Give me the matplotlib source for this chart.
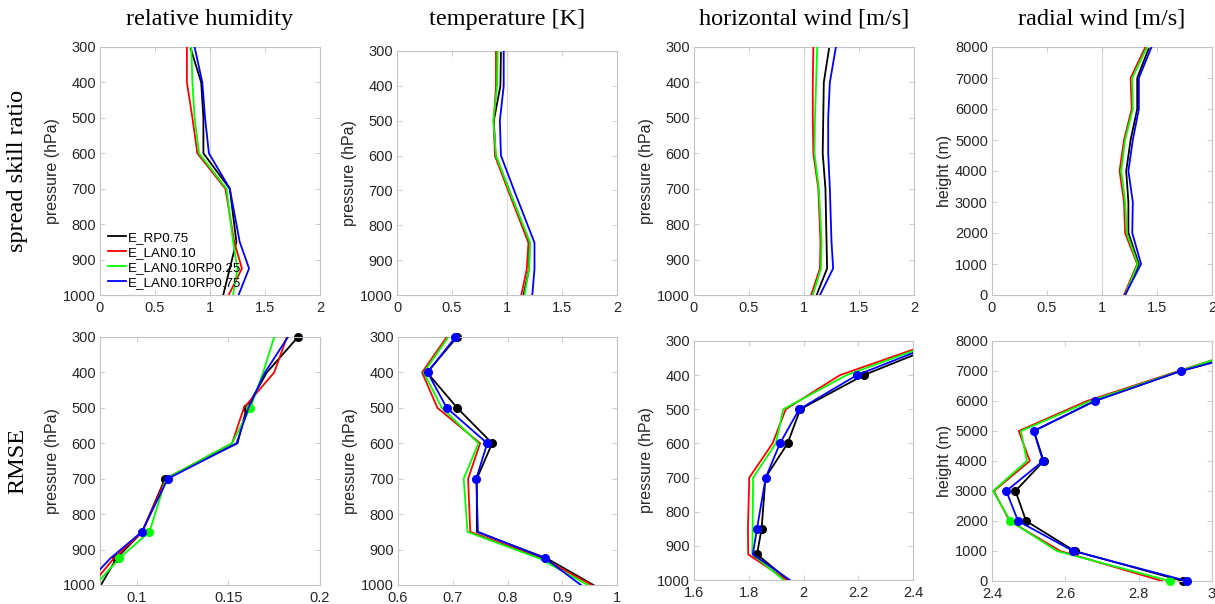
import matplotlib
matplotlib.use('Agg')
import matplotlib.pyplot as plt
from matplotlib.ticker import FormatStrFormatter

# vertical levels
p_lev = [300, 400, 500, 600, 700, 850, 925, 1000]
z_lev = [0, 1000, 2000, 3000, 4000, 5000, 6000, 7000, 8000]

runs = ['E_RP0.75', 'E_LAN0.10', 'E_LAN0.10RP0.25', 'E_LAN0.10RP0.75']

# spread skill ratio, one list per run (same order as runs)
ssr_rh = [[0.82, 0.92, 0.94, 0.94, 1.18, 1.24, 1.18, 1.12],
          [0.79, 0.79, 0.84, 0.885, 1.14, 1.22, 1.29, 1.17],
          [0.83, 0.84, 0.86, 0.90, 1.15, 1.21, 1.25, 1.21],
          [0.86, 0.93, 0.955, 0.99, 1.18, 1.27, 1.355, 1.26]]
ssr_t = [[0.945, 0.94, 0.88, 0.895, 1.02, 1.205, 1.20, 1.15],
         [0.90, 0.90, 0.88, 0.89, 1.01, 1.195, 1.18, 1.13],
         [0.915, 0.91, 0.875, 0.90, 1.02, 1.21, 1.20, 1.16],
         [0.97, 0.97, 0.935, 0.945, 1.065, 1.25, 1.25, 1.23]]
ssr_hw = [[1.23, 1.18, 1.175, 1.17, 1.195, 1.205, 1.21, 1.115],
          [1.085, 1.08, 1.08, 1.085, 1.13, 1.15, 1.145, 1.065],
          [1.12, 1.11, 1.10, 1.095, 1.135, 1.16, 1.155, 1.08],
          [1.29, 1.235, 1.22, 1.22, 1.235, 1.25, 1.265, 1.145]]
ssr_rw = [[1.21, 1.335, 1.24, 1.24, 1.22, 1.26, 1.32, 1.32, 1.43],
          [1.20, 1.32, 1.21, 1.20, 1.16, 1.20, 1.27, 1.26, 1.395],
          [1.21, 1.325, 1.225, 1.21, 1.175, 1.21, 1.28, 1.275, 1.41],
          [1.21, 1.355, 1.275, 1.28, 1.24, 1.28, 1.335, 1.335, 1.45]]

# RMSE
rmse_rh = [[0.188, 0.171, 0.160, 0.155, 0.1155, 0.103, 0.089, 0.0805],
           [0.182, 0.175, 0.1585, 0.152, 0.116, 0.103, 0.0875, 0.0755],
           [0.175, 0.169, 0.162, 0.152, 0.116, 0.107, 0.0905, 0.0775],
           [0.1825, 0.170, 0.161, 0.1545, 0.117, 0.1028, 0.0856, 0.072]]
rmse_t = [[0.708, 0.653, 0.708, 0.772, 0.744, 0.744, 0.872, 0.957],
          [0.689, 0.644, 0.672, 0.750, 0.728, 0.732, 0.864, 0.954],
          [0.692, 0.647, 0.680, 0.747, 0.720, 0.727, 0.858, 0.947],
          [0.705, 0.654, 0.689, 0.763, 0.743, 0.746, 0.869, 0.934]]
rmse_hw = [[2.53, 2.22, 1.988, 1.942, 1.861, 1.847, 1.83, 1.944],
           [2.49, 2.133, 1.935, 1.887, 1.802, 1.797, 1.798, 1.938],
           [2.50, 2.157, 1.926, 1.899, 1.816, 1.814, 1.813, 1.928],
           [2.51, 2.195, 1.984, 1.914, 1.862, 1.83, 1.815, 1.950]]
rmse_rw = [[2.921, 2.625, 2.493, 2.464, 2.541, 2.514, 2.68, 2.915, 3.22],
           [2.864, 2.586, 2.448, 2.405, 2.503, 2.473, 2.659, 2.909, 3.165],
           [2.885, 2.577, 2.45, 2.403, 2.495, 2.479, 2.668, 2.913, 3.157],
           [2.932, 2.621, 2.471, 2.439, 2.539, 2.514, 2.68, 2.915, 3.22]]

# levels with significant differences (dots), per run
sig_rh = [[300, 500, 700, 925], [], [500, 850, 925], [700, 850]]
sig_t = [[300, 400, 500, 600], [], [], [300, 400, 500, 600, 700, 925]]
sig_hw = [[400, 500, 600, 850, 925], [], [], [400, 500, 600, 700, 850]]
sig_rw = [[0, 1000, 2000, 3000, 4000], [], [0, 2000],
          [0, 1000, 2000, 3000, 4000, 5000, 6000, 7000]]

col_titles = ['relative humidity', 'temperature [K]',
              'horizontal wind [m/s]', 'radial wind [m/s]']
row_titles = ['spread skill ratio', 'RMSE']

colors = ['k', 'r', '#00ff00', 'b']
W, H = 1215, 604

plt.rcParams['font.family'] = ['Liberation Sans', 'DejaVu Sans']
fig = plt.figure(figsize=(W / 100, H / 100), dpi=100)

# panel boxes in pixels: x0, y0, x1, y1 (from top left)
boxes = [[(100, 47, 320, 295), (397, 51, 617, 295),
          (694, 47, 914, 295), (992, 47, 1212, 295)],
         [(100, 337, 320, 585), (398, 337, 617, 585),
          (694, 341, 913, 580), (992, 341, 1212, 581)]]

data = [[ssr_rh, ssr_t, ssr_hw, ssr_rw], [rmse_rh, rmse_t, rmse_hw, rmse_rw]]
sigs = [sig_rh, sig_t, sig_hw, sig_rw]
xlims = [[(0, 2)] * 4, [(0.08, 0.2), (0.6, 1.0), (1.6, 2.4), (2.4, 3.0)]]
xticks = [[[0, 0.5, 1, 1.5, 2]] * 4,
          [[0.1, 0.15, 0.2], [0.6, 0.7, 0.8, 0.9, 1.0],
           [1.6, 1.8, 2.0, 2.2, 2.4], [2.4, 2.6, 2.8, 3.0]]]

spine_c = '#c4c4c4'
label_c = '#262626'

for r in range(2):
    for c in range(4):
        x0, y0, x1, y1 = boxes[r][c]
        ax = fig.add_axes([x0 / W, 1 - y1 / H, (x1 - x0) / W, (y1 - y0) / H])
        lev = z_lev if c == 3 else p_lev
        if r == 0:
            ax.axvline(1, color='#d8d8d8', lw=0.8, zorder=0)
        for i, vals in enumerate(data[r][c]):
            ax.plot(vals, lev, color=colors[i], lw=1.3, label=runs[i], zorder=2 + i)
            if r == 1:
                mk = [lev.index(l) for l in sigs[c][i]]
                ax.plot([vals[k] for k in mk], sigs[c][i], 'o', color=colors[i],
                        ms=5.5, zorder=2 + i, clip_on=False)
        ax.set_xlim(*xlims[r][c])
        ax.set_xticks(xticks[r][c])
        ax.xaxis.set_major_formatter(FormatStrFormatter('%g'))
        if c == 3:
            ax.set_ylim(0, 8000)
            ax.set_yticks(z_lev)
            ax.set_ylabel('height (m)', fontsize=11.5, color=label_c, labelpad=2)
        else:
            ax.set_ylim(1000, 300)
            ax.set_yticks(range(300, 1001, 100))
            ax.set_ylabel('pressure (hPa)', fontsize=11.5, color=label_c, labelpad=2)
        for s in ax.spines.values():
            s.set_color(spine_c)
            s.set_linewidth(0.8)
        ax.tick_params(direction='in', top=True, right=True, length=3.5,
                       width=0.6, color=spine_c, labelcolor=label_c,
                       labelsize=10.5, pad=3)
        ax.tick_params(axis='x', pad=4.5)
        if r == 0 and c == 0:
            ax.legend(loc='lower left', bbox_to_anchor=(0.025, 0.015),
                      frameon=False, fontsize=9.6, handlelength=1.3,
                      handletextpad=0.15, labelspacing=0.2,
                      borderaxespad=0, borderpad=0.2)
        if r == 0:
            fig.text((x0 + x1) / 2 / W, 1 - 19 / H, col_titles[c], ha='center',
                     va='center', fontsize=17.5, family='Liberation Serif')
        if c == 0:
            fig.text(18 / W, 1 - (y0 + y1) / 2 / H, row_titles[r], ha='center',
                     va='center', rotation=90, fontsize=17.5,
                     family='Liberation Serif')

fig.savefig('out.png', dpi=100)
